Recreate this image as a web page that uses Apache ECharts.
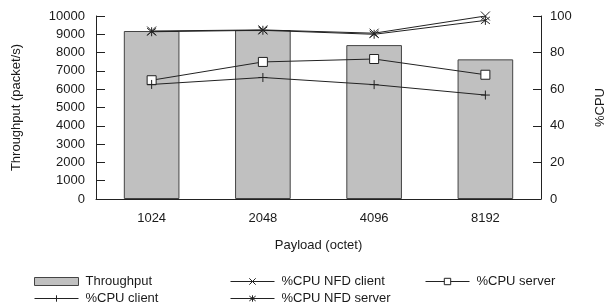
<!DOCTYPE html>
<html><head><meta charset="utf-8">
<script src="https://cdn.jsdelivr.net/npm/echarts@6/dist/echarts.min.js"></script>
<style>html,body{margin:0;padding:0;background:#fff}#c{width:609px;height:308px}</style>
</head><body><div id="c"></div>
<script>
var categories = ['1024', '2048', '4096', '8192'];
var throughput = [9180, 9230, 8410, 7630];
var cpuNfdClient = [91.8, 92.4, 90.6, 100];
var cpuNfdServer = [91.4, 92.2, 90.0, 97.6];
var cpuServer = [64.9, 74.9, 76.5, 67.9];
var cpuClient = [62.6, 66.4, 62.5, 56.8];

var FONT = 'Liberation Sans';
var TXT = '#1a1a1a';
var P_X = 'path://M0 0L10 10M10 0L0 10';
var P_STAR = 'path://M0 0L10 10M10 0L0 10M5 -1.5L5 11.5';
var P_PLUS = 'path://M5 0L5 10M0 5L10 5';

function lineSeries(name, data, symbol, fill) {
  return {
    name: name, type: 'line', yAxisIndex: 1, data: data,
    symbol: symbol, symbolSize: 9, showAllSymbol: true,
    lineStyle: {color: '#222', width: 1},
    itemStyle: {color: fill || '#222', borderColor: '#222', borderWidth: 1},
    z: 3
  };
}

var chart = echarts.init(document.getElementById('c'), null, {renderer: 'canvas'});
var legendBase = {
  orient: 'vertical', top: 275, itemWidth: 44, itemHeight: 8, itemGap: 4,
  textStyle: {fontFamily: FONT, fontSize: 13, color: TXT, padding: [0, 0, 0, 2]},
  lineStyle: {width: 1},
  itemStyle: {borderWidth: 1},
  padding: 0
};
chart.setOption({
  animation: false,
  textStyle: {fontFamily: FONT},
  grid: {left: 96, right: 68, top: 16, bottom: 109, containLabel: false, outerBoundsMode: 'none'},
  legend: [
    Object.assign({}, legendBase, {left: 34, data: [{name: 'Throughput', icon: 'rect'}, 'CPU client'],
      formatter: function (n) { return n === 'Throughput' ? n : '%' + n; }}),
    Object.assign({}, legendBase, {left: 230, data: ['NFD client', 'NFD server'],
      formatter: function (n) { return '%CPU ' + n; }}),
    Object.assign({}, legendBase, {left: 425, data: ['CPU server'],
      formatter: function (n) { return '%' + n; }})
  ],
  xAxis: {
    type: 'category', data: categories,
    name: 'Payload (octet)', nameLocation: 'middle', nameGap: 40,
    nameTextStyle: {fontFamily: FONT, fontSize: 13, color: TXT},
    axisLine: {lineStyle: {color: '#222', width: 1}},
    axisTick: {inside: true, length: 9, alignWithLabel: true, lineStyle: {color: '#222'}},
    axisLabel: {fontFamily: FONT, fontSize: 13, color: TXT, margin: 13}
  },
  yAxis: [{
    type: 'value', min: 0, max: 10000, interval: 1000, position: 'left',
    name: 'Throughput (packet/s)', nameLocation: 'middle', nameGap: 73, nameRotate: 90,
    nameTextStyle: {fontFamily: FONT, fontSize: 13, color: TXT},
    axisLine: {show: true, lineStyle: {color: '#222', width: 1}},
    axisTick: {show: true, inside: true, length: 9, lineStyle: {color: '#222'}},
    axisLabel: {fontFamily: FONT, fontSize: 13, color: TXT, margin: 11,
      formatter: function (v) { return String(v); }},
    splitLine: {show: false}
  }, {
    type: 'value', min: 0, max: 100, interval: 20, position: 'right',
    name: '%CPU', nameLocation: 'middle', nameGap: 53, nameRotate: 90,
    nameTextStyle: {fontFamily: FONT, fontSize: 13, color: TXT},
    axisLine: {show: true, lineStyle: {color: '#222', width: 1}},
    axisTick: {show: true, inside: true, length: 8, lineStyle: {color: '#222'}},
    axisLabel: {fontFamily: FONT, fontSize: 13, color: TXT, margin: 9},
    splitLine: {show: false}
  }],
  series: [
    {name: 'Throughput', type: 'bar', data: throughput, barWidth: '50%',
     itemStyle: {color: '#c0c0c0', borderColor: '#444', borderWidth: 1}, z: 1},
    lineSeries('NFD client', cpuNfdClient, P_X),
    lineSeries('NFD server', cpuNfdServer, P_STAR),
    lineSeries('CPU server', cpuServer, 'rect', '#fff'),
    lineSeries('CPU client', cpuClient, P_PLUS)
  ]
});
</script>
</body></html>
